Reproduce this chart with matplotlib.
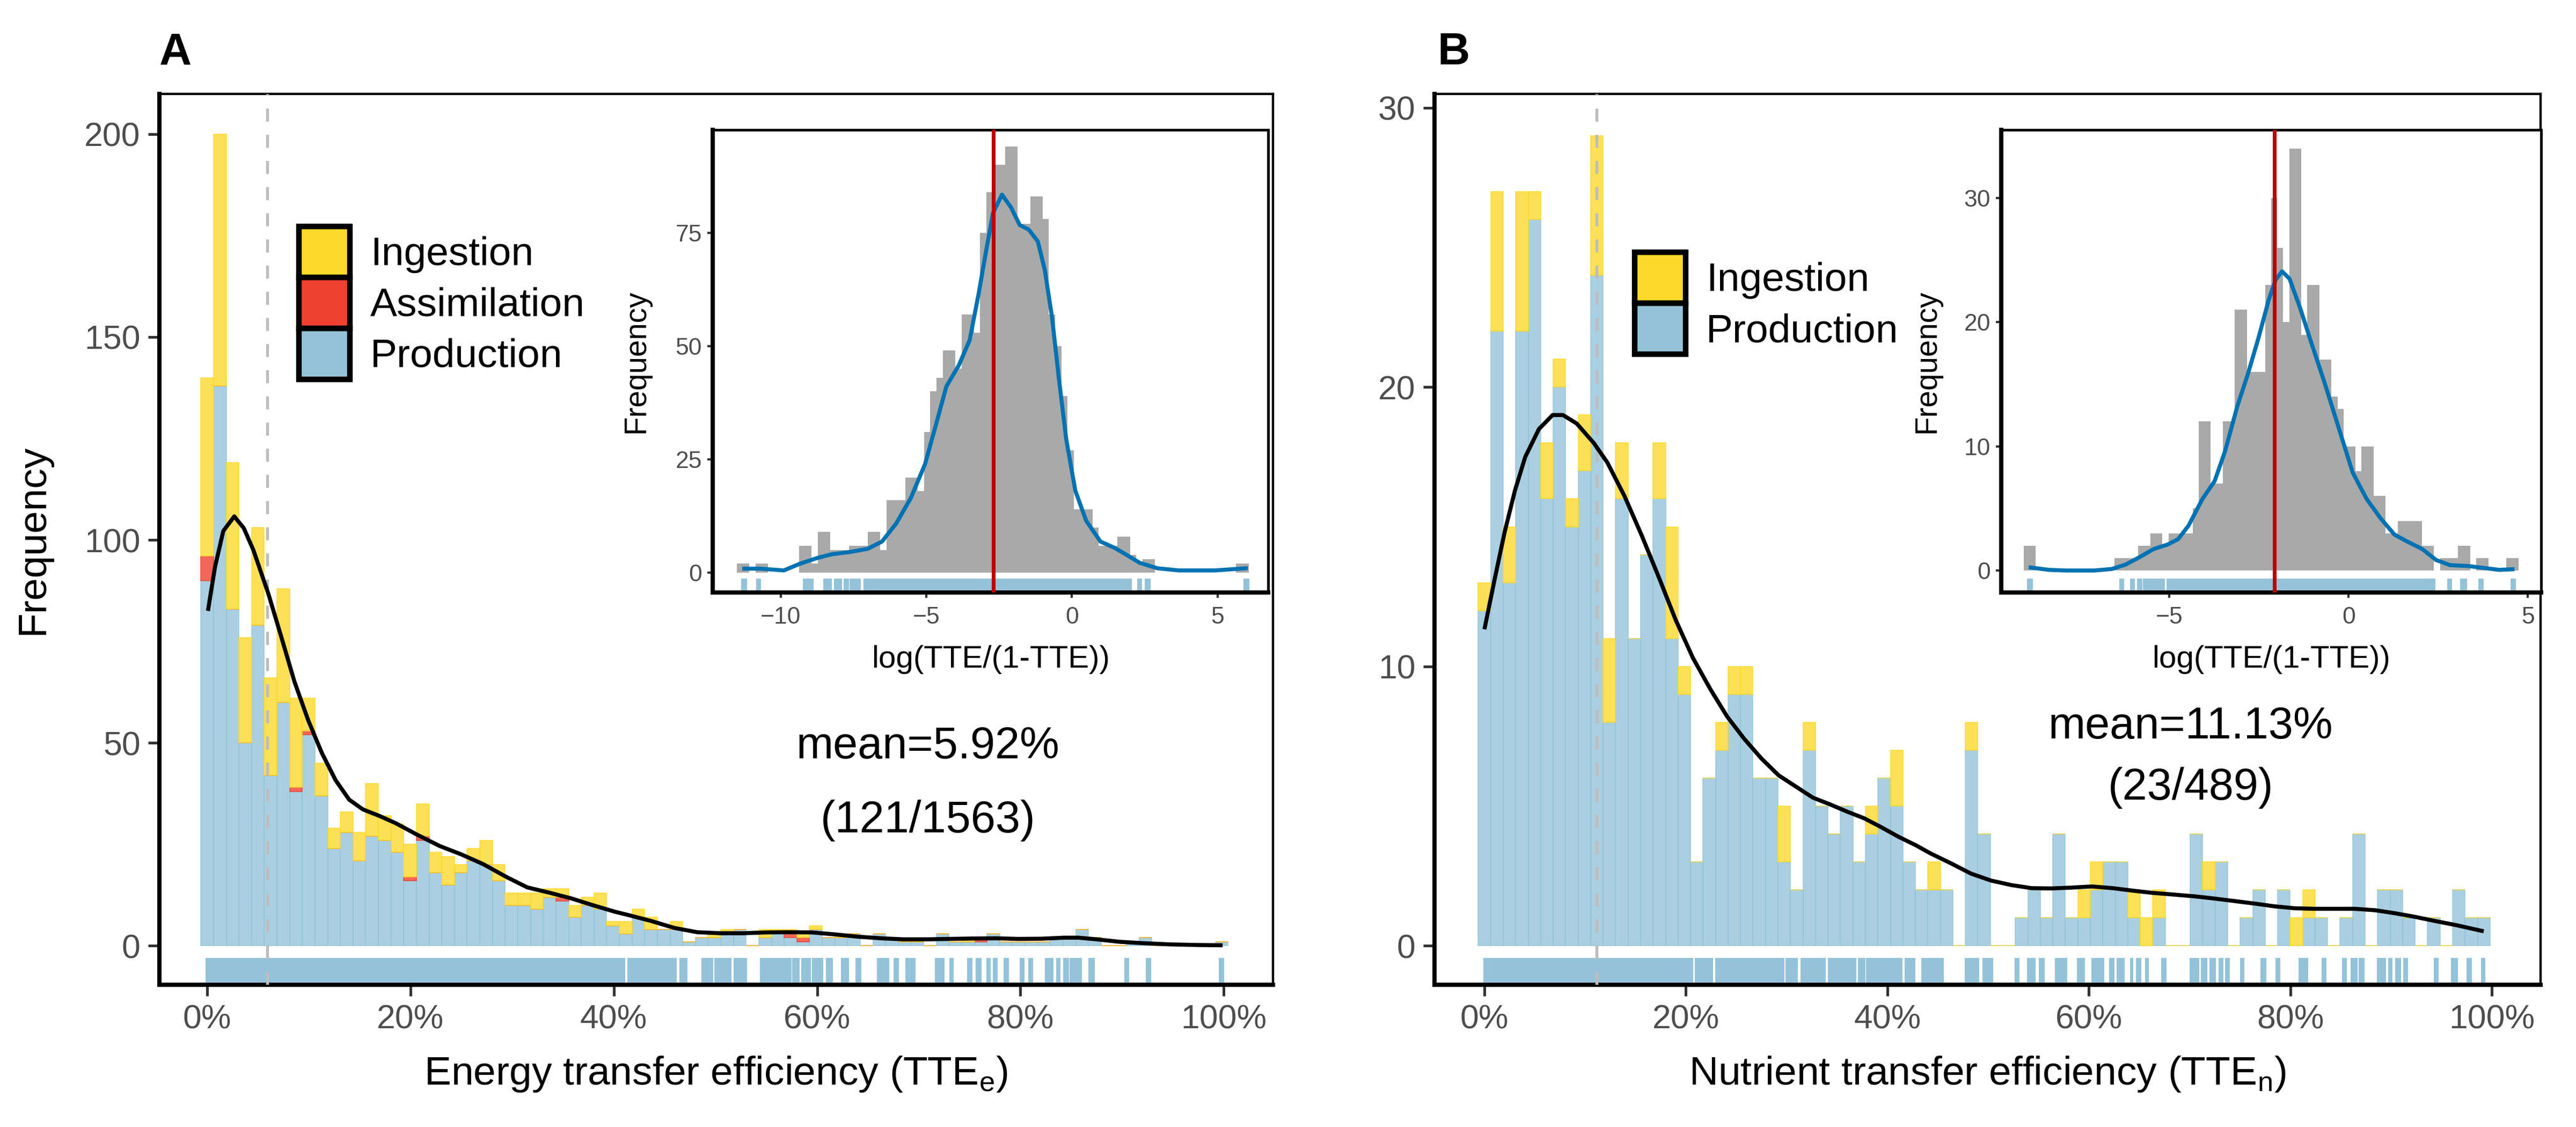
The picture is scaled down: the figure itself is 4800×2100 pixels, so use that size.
import numpy as np
import matplotlib
matplotlib.use('Agg')
import matplotlib.pyplot as plt
from matplotlib.patches import Patch

plt.rcParams['font.family'] = ['Liberation Sans', 'DejaVu Sans']
plt.rcParams['mathtext.fontset'] = 'custom'
plt.rcParams['mathtext.rm'] = 'Liberation Sans'

# ---------------
# data
# ---------------
# panel A: energy transfer efficiency, 81 bins starting at 0 %
BINW_A = 1.2475
prod_a = [90, 138, 83, 50, 79, 42, 60, 38, 52, 37, 24, 28, 21, 27, 26, 23, 16, 26, 18, 15,
          18, 21, 20, 16, 10, 10, 9, 12, 11, 7, 10, 9, 5, 3, 7, 4, 4, 4, 1, 2,
          2, 3, 4, 0, 2, 3, 2, 1, 4, 2, 2, 3, 0, 3, 2, 1, 1, 0, 3, 1,
          1, 1, 3, 1, 1, 1, 1, 2, 2, 4, 2, 0, 0, 1, 2, 0, 0, 0, 0, 0, 1]
assim_a = [6, 0, 0, 0, 0, 0, 0, 1, 1, 0, 0, 0, 0, 0, 0, 0, 1, 1, 0, 0,
           0, 0, 0, 0, 0, 0, 0, 0, 1, 0, 0, 0, 0, 0, 0, 0, 0, 0, 0, 0,
           0, 0, 0, 0, 0, 0, 1, 1, 0, 0, 0, 0, 0, 0, 0, 0, 0, 0, 0, 0,
           0, 1, 0, 0, 0, 0, 0, 0, 0, 0, 0, 0, 0, 0, 0, 0, 0, 0, 0, 0, 0]
ing_a = [44, 62, 36, 26, 24, 24, 28, 22, 8, 8, 5, 5, 7, 13, 6, 7, 8, 8, 5, 7,
         2, 3, 6, 4, 3, 3, 4, 2, 2, 3, 2, 4, 1, 3, 2, 3, 0, 2, 0, 0,
         1, 1, 0, 0, 2, 1, 1, 1, 1, 0, 1, 0, 0, 0, 0, 0, 0, 0, 0, 0,
         1, 0, 0, 0, 0, 0, 0, 0, 0, 0, 0, 0, 0, 0, 0, 0, 0, 0, 0, 0, 0]
kde_a_x = [0.1, 0.77, 1.58, 2.66, 3.6, 4.54, 6.02, 7.24, 8.58, 9.93, 11.28, 12.63, 13.97,
           15.32, 16.94, 18.55, 20.71, 22.86, 25.02, 27.17, 29.33, 31.48, 33.64, 35.79,
           37.95, 40.1, 41.4, 43.7, 45.96, 48.2, 50.5, 52.7, 55.0, 57.2, 59.5, 61.8, 64.0,
           66.3, 68.5, 70.8, 73.0, 75.3, 77.6, 79.8, 82.1, 84.3, 85.7, 87.5, 89.7, 92.0,
           94.7, 97.4, 99.7]
kde_a_y = [83.0, 93.4, 102.2, 105.8, 102.9, 97.5, 86.7, 76.5, 65.1, 55.6, 47.5, 40.8, 36.0,
           33.6, 32.0, 30.2, 27.3, 24.6, 22.5, 20.1, 17.1, 14.4, 13.1, 11.7,
           10.0, 8.4, 7.6, 6.1, 4.4, 3.35, 3.1, 3.1, 3.3, 3.35, 3.3, 2.8, 2.25,
           1.85, 1.6, 1.6, 1.7, 1.8, 1.85, 1.7, 1.75, 2.0, 2.0, 1.6, 1.0, 0.66,
           0.35, 0.2, 0.13]
rug_a = [(-0.16, 41.13), (41.31, 46.18), (46.46, 47.27), (48.62, 49.8), (49.89, 51.6),
         (51.78, 53.13), (54.4, 57.47), (57.56, 58.28), (58.46, 59.41), (59.5, 60.58),
         (60.85, 61.57), (62.34, 63.15), (63.78, 64.33), (65.91, 67.08), (67.53, 68.07),
         (68.66, 69.7), (71.59, 72.54), (73.04, 73.44), (74.75, 75.29), (75.61, 76.2),
         (76.65, 77.1), (77.28, 77.78), (78.36, 78.9), (79.94, 80.39), (80.75, 81.25),
         (82.42, 83.28), (83.51, 83.96), (84.23, 84.77), (84.86, 86.04), (86.67, 87.3),
         (90.23, 90.68), (92.35, 92.89), (99.53, 100.07)]
mean_a = 5.92

# panel B: nutrient transfer efficiency
BINW_B = 1.24
prod_b = [12, 22, 13, 22, 26, 16, 20, 15, 17, 24, 8, 16, 11, 14, 16, 11, 9, 3, 6, 7,
          9, 9, 6, 6, 3, 2, 7, 5, 4, 5, 3, 4, 6, 5, 3, 2, 2, 2, 0, 7,
          4, 0, 0, 1, 2, 1, 4, 1, 1, 2, 3, 3, 1, 0, 1, 0, 0, 4, 2, 3,
          0, 1, 2, 0, 2, 0, 1, 1, 0, 1, 4, 0, 2, 2, 1, 0, 1, 0, 2, 1, 1]
ing_b = [1, 5, 2, 5, 1, 2, 1, 1, 2, 5, 3, 2, 0, 0, 2, 4, 1, 0, 0, 1,
         1, 1, 0, 0, 2, 0, 1, 0, 0, 0, 0, 1, 0, 2, 0, 0, 1, 0, 0, 1,
         0, 0, 0, 0, 0, 0, 0, 0, 1, 1, 0, 0, 1, 1, 1, 0, 0, 0, 1, 0,
         0, 0, 0, 0, 0, 1, 1, 0, 0, 0, 0, 0, 0, 0, 0, 0, 0, 0, 0, 0, 0]
kde_b_x = [0.04, 1.0, 2.0, 3.03, 4.05, 5.41, 6.77, 7.79, 9.15, 10.85, 12.2, 13.9, 15.6,
           17.3, 19.0, 20.7, 22.4, 24.1, 25.8, 27.5, 29.2, 30.9, 32.6, 34.3, 36.0, 37.7,
           39.4, 41.1, 42.8, 44.3, 46.3, 48.3, 50.3, 52.3, 54.3, 56.3, 58.3, 60.3, 62.35,
           64.35, 66.35, 68.4, 70.4, 72.4, 74.4, 76.4, 78.4, 80.4, 82.4, 84.4, 86.4, 88.4,
           90.4, 92.4, 94.4, 96.4, 99.0]
kde_b_y = [11.4, 13.1, 14.8, 16.3, 17.5, 18.5, 19.0, 19.0, 18.7, 18.0, 17.3, 16.1, 14.7,
           13.2, 11.65, 10.3, 9.2, 8.2, 7.4, 6.7, 6.1, 5.7, 5.3, 5.06, 4.8, 4.56,
           4.24, 3.9, 3.6, 3.3, 2.95, 2.58, 2.33, 2.17, 2.06, 2.05, 2.08, 2.12, 2.06,
           1.97, 1.89, 1.83, 1.77, 1.69, 1.6, 1.51, 1.41, 1.34, 1.32, 1.32, 1.32, 1.27,
           1.16, 1.03, 0.88, 0.74, 0.53]
rug_b = [(-0.1, 20.7), (20.9, 22.7), (22.9, 29.8), (29.9, 31.1), (31.4, 33.9), (34.1, 36.9),
         (37.1, 37.8), (37.9, 41.5), (41.7, 42.78), (43.38, 45.59), (47.67, 49.12),
         (49.44, 50.52), (52.64, 53.13), (53.85, 54.73), (55.05, 55.61), (56.61, 57.86),
         (58.82, 59.62), (60.26, 61.55), (62.03, 62.55), (62.75, 63.55), (64.07, 64.43),
         (64.67, 65.19), (65.55, 65.96), (67.16, 67.68), (70.0, 70.93), (71.13, 71.77),
         (71.97, 72.61), (72.85, 73.37), (73.53, 73.97), (74.98, 75.42), (77.02, 77.62),
         (78.5, 78.99), (80.79, 81.79), (83.08, 83.56), (85.12, 85.6), (86.0, 86.68),
         (86.8, 87.37), (88.61, 89.49), (89.69, 90.13), (90.41, 91.01), (91.21, 91.7),
         (94.22, 94.7), (95.95, 96.63), (97.51, 98.0), (98.91, 99.35)]
mean_b = 11.13

# insets: log(TTE/(1-TTE))
INSET_A_LEFT, INSET_A_W = -11.51, 0.2144
inset_a_counts = [2, 2, 0, 2, 2, 0, 0, 0, 0, 0, 6, 6, 2, 9, 9, 5, 5, 5, 6, 6,
                  6, 9, 9, 5, 16, 16, 16, 21, 21, 18, 31, 40, 43, 49, 49, 45, 57, 57, 53, 75,
                  84, 90, 90, 94, 94, 77, 77, 83, 83, 78, 57, 50, 39, 27, 14, 14, 14, 10, 6, 6,
                  6, 8, 8, 4, 2, 3, 3, 0, 0, 0, 0, 0, 0, 0, 0, 0, 0, 0, 0, 0, 2, 2]
inset_a_kde_x = [-11.25, -10.69, -9.89, -9.34, -8.73, -8.24, -7.62, -7.01, -6.52, -6.03,
                 -5.53, -5.04, -4.67, -4.31, -3.88, -3.51, -3.2, -2.95, -2.71, -2.4, -2.09,
                 -1.79, -1.48, -1.17, -0.93, -0.68, -0.44, -0.19, 0.12, 0.49, 0.98, 1.47,
                 1.84, 2.33, 2.94, 3.68, 4.91, 5.97]
inset_a_kde_y = [0.92, 0.92, 0.53, 2.0, 3.3, 4.1, 4.6, 5.3, 6.9, 10.9, 16.5, 24.0, 32.6, 41.1,
                 45.8, 51.3, 61.6, 70.8, 79.3, 83.4, 80.6, 76.7, 75.7, 73.1, 66.8, 56.3, 42.5,
                 29.3, 18.1, 11.5, 6.9, 5.5, 4.1, 2.2, 1.0, 0.53, 0.53, 1.0]
inset_a_rug = [(-11.36, -11.16), (-10.84, -10.67), (-9.24, -8.87), (-8.54, -8.25),
               (-8.16, -7.89), (-7.84, -7.66), (-7.63, -7.25), (-7.16, 2.06), (2.24, 2.4),
               (2.51, 2.7), (5.9, 6.09)]
inset_a_mean = -2.70

INSET_B_LEFT, INSET_B_W = -9.065, 0.1683
inset_b_counts = [2, 2, 0, 0, 0, 0, 0, 0, 0, 0, 0, 0, 0, 0, 0, 1, 1, 1, 1, 2,
                  2, 3, 3, 2, 3, 3, 3, 3, 5, 12, 12, 7, 7, 12, 12, 21, 21, 16, 16, 16,
                  23, 30, 26, 20, 34, 34, 19, 23, 23, 17, 17, 14, 13, 10, 10, 8, 10, 10, 6, 6,
                  3, 3, 4, 4, 4, 4, 2, 2, 0, 1, 1, 1, 2, 2, 0, 1, 1, 0, 0, 0, 1, 1]
inset_b_kde_x = [-8.87, -8.36, -7.88, -7.1, -6.61, -6.22, -5.83, -5.44, -5.05, -4.76, -4.47,
                 -4.08, -3.74, -3.45, -3.11, -2.81, -2.52, -2.23, -2.04, -1.86, -1.65, -1.35,
                 -1.06, -0.67, -0.28, 0.11, 0.5, 0.89, 1.28, 1.67, 2.05, 2.44, 2.83, 3.32,
                 3.81, 4.2, 4.57]
inset_b_kde_y = [0.24, 0.05, 0.0, 0.0, 0.12, 0.48, 1.08, 1.73, 2.09, 2.52, 3.6, 5.76, 7.2,
                 9.6, 13.2, 15.85, 18.7, 21.8, 23.4, 24.1, 23.5, 21.1, 18.5, 15.1, 11.5, 7.9,
                 5.76, 4.2, 2.88, 2.28, 1.73, 0.84, 0.43, 0.36, 0.19, 0.05, 0.1]
inset_b_rug = [(-8.97, -8.81), (-6.4, -6.26), (-6.1, -5.96), (-5.9, -5.76), (-5.74, -5.12),
               (-5.08, 2.42), (2.75, 2.88), (3.11, 3.3), (3.62, 3.77), (4.52, 4.66)]
inset_b_mean = -2.08

# ---------------
# styling
# ---------------
COL_ING = '#FCD92A'
COL_ASS = '#EF4130'
COL_PROD = '#94C3D9'
TICK_COL = '#333333'
LAB_COL = '#4D4D4D'


def style_box(ax, thick, thin):
    for s in ['left', 'bottom']:
        ax.spines[s].set_linewidth(thick)
    for s in ['top', 'right']:
        ax.spines[s].set_linewidth(thin)


def draw_rug(ax, spans, height=0.03):
    for lo, hi in spans:
        ax.axvspan(lo, hi, ymin=0, ymax=height, color=COL_PROD, lw=0, zorder=2)


def add_legend(ax, labels, colours, anchor):
    handles = [Patch(facecolor=c, edgecolor='black', linewidth=2.5) for c in colours]
    ax.legend(handles, labels, loc='upper left', bbox_to_anchor=anchor, frameon=False,
              fontsize=18, handlelength=1.27, handleheight=1.57, labelspacing=0,
              borderpad=0, borderaxespad=0, handletextpad=0.5)


def main_panel(ax, binw, layers, kde_x, kde_y, rug, mean, xlim, ylim, yticks):
    centers = np.arange(len(layers[0][0])) * binw
    bottom = np.zeros(len(centers))
    for vals, col in layers:
        vals = np.array(vals, dtype=float)
        ax.bar(centers, vals, width=binw, bottom=bottom, color=col, alpha=0.8,
               edgecolor=col, linewidth=0.4, zorder=1)
        bottom += vals
    draw_rug(ax, rug)
    ax.axvline(mean, color='#BDBDBD', lw=1.3, ls=(0, (4.5, 4.5)), zorder=3)
    ax.plot(kde_x, kde_y, color='black', lw=1.8, zorder=4)
    ax.set_xlim(*xlim)
    ax.set_ylim(*ylim)
    ax.set_xticks([0, 20, 40, 60, 80, 100])
    ax.set_xticklabels(['0%', '20%', '40%', '60%', '80%', '100%'])
    ax.set_yticks(yticks)
    ax.tick_params(length=5, width=1.2, color=TICK_COL, labelsize=15,
                   labelcolor=LAB_COL, pad=3.5)
    style_box(ax, 1.9, 1.05)


def inset_panel(ax, left, binw, counts, kde_x, kde_y, rug, mean, xlim, ylim, xticks, yticks):
    edges = left + np.arange(len(counts)) * binw
    ax.bar(edges, counts, width=binw, align='edge', color='#A9A9A9', lw=0, zorder=1)
    draw_rug(ax, rug)
    ax.plot(kde_x, kde_y, color='#0072B2', lw=1.8, zorder=3)
    ax.axvline(mean, color='#C00000', lw=1.7, zorder=4)
    ax.set_xlim(*xlim)
    ax.set_ylim(*ylim)
    ax.set_xticks(xticks)
    ax.set_yticks(yticks)
    ax.tick_params(length=2.3, width=1.0, color=TICK_COL, labelsize=10.7,
                   labelcolor=LAB_COL)
    ax.tick_params(axis='x', pad=4)
    ax.tick_params(axis='y', pad=2.5)
    style_box(ax, 1.9, 1.2)
    ax.text(0.5, -0.145, 'log(TTE/(1-TTE))', transform=ax.transAxes, ha='center',
            va='center', fontsize=14)
    ax.text(-0.138, 0.5, 'Frequency', transform=ax.transAxes, ha='center',
            va='center', rotation=90, fontsize=13.6)


fig = plt.figure(figsize=(16, 7), dpi=300)

ax_a = fig.add_axes([0.0619, 0.1262, 0.4323, 0.7905])
main_panel(ax_a, BINW_A, [(prod_a, COL_PROD), (assim_a, COL_ASS), (ing_a, COL_ING)],
           kde_a_x, kde_a_y, rug_a, mean_a, (-4.7, 104.86), (-9.6, 209.9),
           [0, 50, 100, 150, 200])
ax_a.text(70.9, 46.2, 'mean=5.92%', ha='center', va='baseline', fontsize=19.9)
ax_a.text(70.9, 27.9, '(121/1563)', ha='center', va='baseline', fontsize=19.9)
add_legend(ax_a, ['Ingestion', 'Assimilation', 'Production'],
           [COL_ING, COL_ASS, COL_PROD], (0.1253, 0.8512))

ax_b = fig.add_axes([0.5569, 0.1262, 0.4294, 0.7905])
main_panel(ax_b, BINW_B, [(prod_b, COL_PROD), (ing_b, COL_ING)],
           kde_b_x, kde_b_y, rug_b, mean_b, (-4.95, 104.85), (-1.4, 30.5),
           [0, 10, 20, 30])
ax_b.text(70.1, 7.42, 'mean=11.13%', ha='center', va='baseline', fontsize=19.9)
ax_b.text(70.1, 5.23, '(23/489)', ha='center', va='baseline', fontsize=19.9)
add_legend(ax_b, ['Ingestion', 'Production'], [COL_ING, COL_PROD], (0.181, 0.822))

in_a = fig.add_axes([0.2767, 0.4743, 0.2156, 0.4105])
inset_panel(in_a, INSET_A_LEFT, INSET_A_W, inset_a_counts, inset_a_kde_x, inset_a_kde_y,
            inset_a_rug, inset_a_mean, (-12.33, 6.74), (-4.33, 97.7),
            [-10, -5, 0, 5], [0, 25, 50, 75])

in_b = fig.add_axes([0.7769, 0.4743, 0.2096, 0.4105])
inset_panel(in_b, INSET_B_LEFT, INSET_B_W, inset_b_counts, inset_b_kde_x, inset_b_kde_y,
            inset_b_rug, inset_b_mean, (-9.69, 5.37), (-1.77, 35.5),
            [-5, 0, 5], [0, 10, 20, 30])

fig.text(61 / 4800, 1 - 1005 / 2100, 'Frequency', rotation=90, ha='center', va='center',
         fontsize=18)
fig.text(1334 / 4800, 1 - 2002 / 2100, r'Energy transfer efficiency (TTE$_\mathregular{e}$)',
         ha='center', va='center', fontsize=18)
fig.text(3703 / 4800, 1 - 2002 / 2100, r'Nutrient transfer efficiency (TTE$_\mathregular{n}$)',
         ha='center', va='center', fontsize=18)
fig.text(297 / 4800, 1 - 120 / 2100, 'A', fontsize=20, fontweight='bold', va='baseline')
fig.text(2678 / 4800, 1 - 120 / 2100, 'B', fontsize=20, fontweight='bold', va='baseline')

fig.savefig('out.png', dpi=300)
